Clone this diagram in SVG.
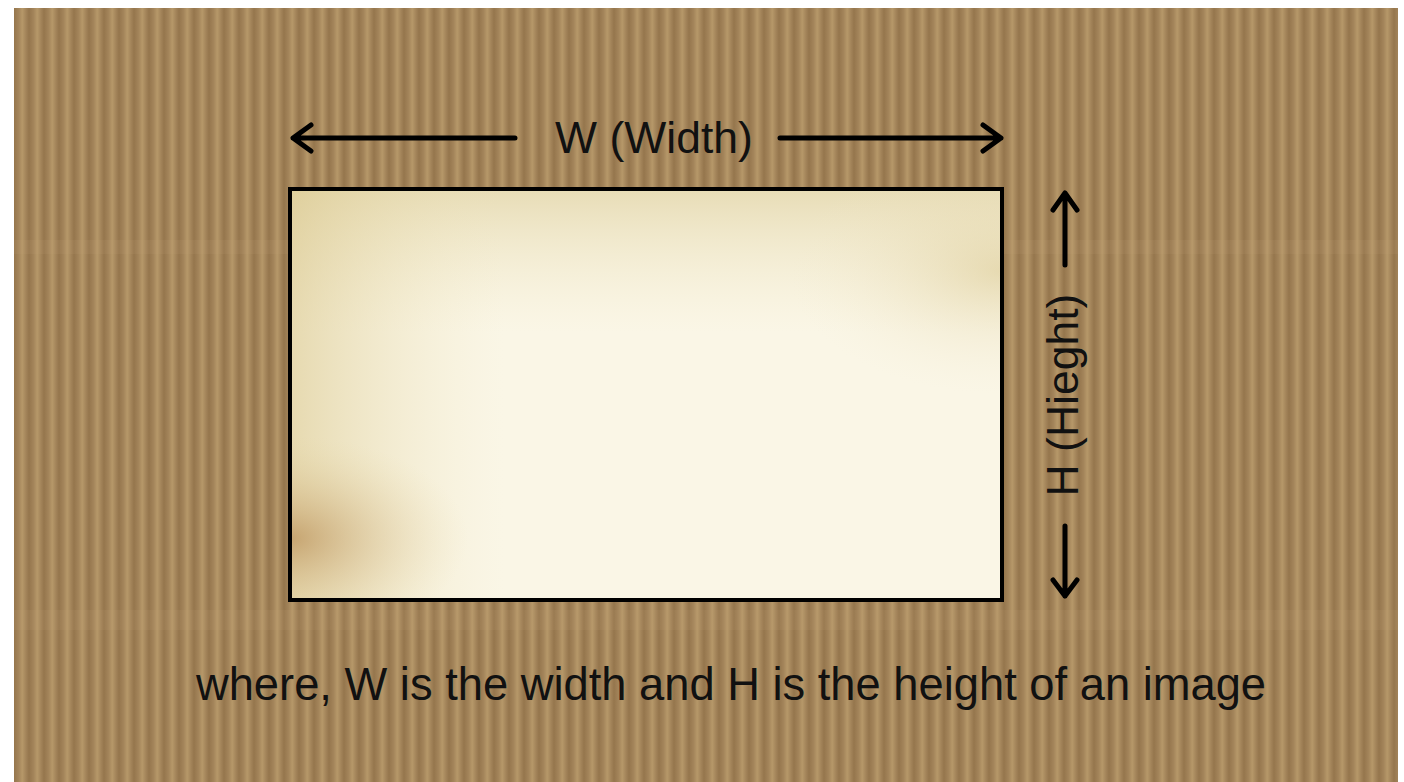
<svg xmlns="http://www.w3.org/2000/svg" width="1404" height="782" viewBox="0 0 1404 782">
<defs>
<linearGradient id="stripe" x1="0" y1="0" x2="1" y2="0">
<stop offset="0" stop-color="#95764d"/>
<stop offset="0.3" stop-color="#a3845a"/>
<stop offset="0.55" stop-color="#b69869"/>
<stop offset="0.8" stop-color="#a3845a"/>
<stop offset="1" stop-color="#95764d"/>
</linearGradient>
<pattern id="card" x="14" y="0" width="15" height="20" patternUnits="userSpaceOnUse">
<rect width="15" height="20" fill="url(#stripe)"/>
</pattern>
<linearGradient id="topband" x1="0" y1="0" x2="0" y2="1">
<stop offset="0" stop-color="#d8c78e" stop-opacity="0.55"/>
<stop offset="0.35" stop-color="#efe5c0" stop-opacity="0"/>
</linearGradient>
<linearGradient id="leftband" x1="0" y1="0" x2="1" y2="0">
<stop offset="0" stop-color="#d9c68b" stop-opacity="0.6"/>
<stop offset="0.3" stop-color="#efe5c0" stop-opacity="0"/>
</linearGradient>
<radialGradient id="stainL" cx="0" cy="0.85" r="0.25">
<stop offset="0" stop-color="#b88d55" stop-opacity="0.7"/>
<stop offset="1" stop-color="#e8d9a8" stop-opacity="0"/>
</radialGradient>
<radialGradient id="stainR" cx="1" cy="0.2" r="0.3">
<stop offset="0" stop-color="#d8c58a" stop-opacity="0.5"/>
<stop offset="1" stop-color="#f3ead0" stop-opacity="0"/>
</radialGradient>
<style>
.ar{fill:none;stroke:#000;stroke-width:5;stroke-linecap:round;stroke-linejoin:round}
.t{font-family:"Liberation Sans",Arial,sans-serif;font-size:44.5px;fill:#111}
.c{font-size:45.3px}
</style>
</defs>
<rect width="1404" height="782" fill="#ffffff"/>
<rect x="14" y="8" width="1384" height="774" fill="url(#card)"/>
<rect x="14" y="240" width="1384" height="14" fill="#c2a67a" opacity="0.12"/>
<rect x="14" y="610" width="1384" height="20" fill="#c2a67a" opacity="0.12"/>
<g id="image">
<rect x="290" y="189" width="712" height="411" fill="#faf6e6"/>
<rect x="290" y="189" width="712" height="411" fill="url(#topband)"/>
<rect x="290" y="189" width="712" height="411" fill="url(#leftband)"/>
<rect x="290" y="189" width="712" height="411" fill="url(#stainL)"/>
<rect x="290" y="189" width="712" height="411" fill="url(#stainR)"/>
<rect x="290" y="189" width="712" height="411" fill="none" stroke="#000" stroke-width="4"/>
</g>
<g id="connectors">
<path class="ar" d="M515 138H293M311 125L293 138L311 151"/>
<path class="ar" d="M780 138H1001M983 125L1001 138L983 151"/>
<path class="ar" d="M1065 265V193M1053 210L1065 193L1077 210"/>
<path class="ar" d="M1065 526V596M1053 580L1065 596L1077 580"/>
</g>
<g id="width-label"><text class="t" x="654" y="153" text-anchor="middle">W (Width)</text></g>
<g id="height-label"><text class="t" x="0" y="0" text-anchor="middle" transform="translate(1078 395) rotate(-90)">H (Hieght)</text></g>
<g id="caption"><text class="t c" x="731" y="700" text-anchor="middle">where, W is the width and H is the height of an image</text></g>
</svg>
